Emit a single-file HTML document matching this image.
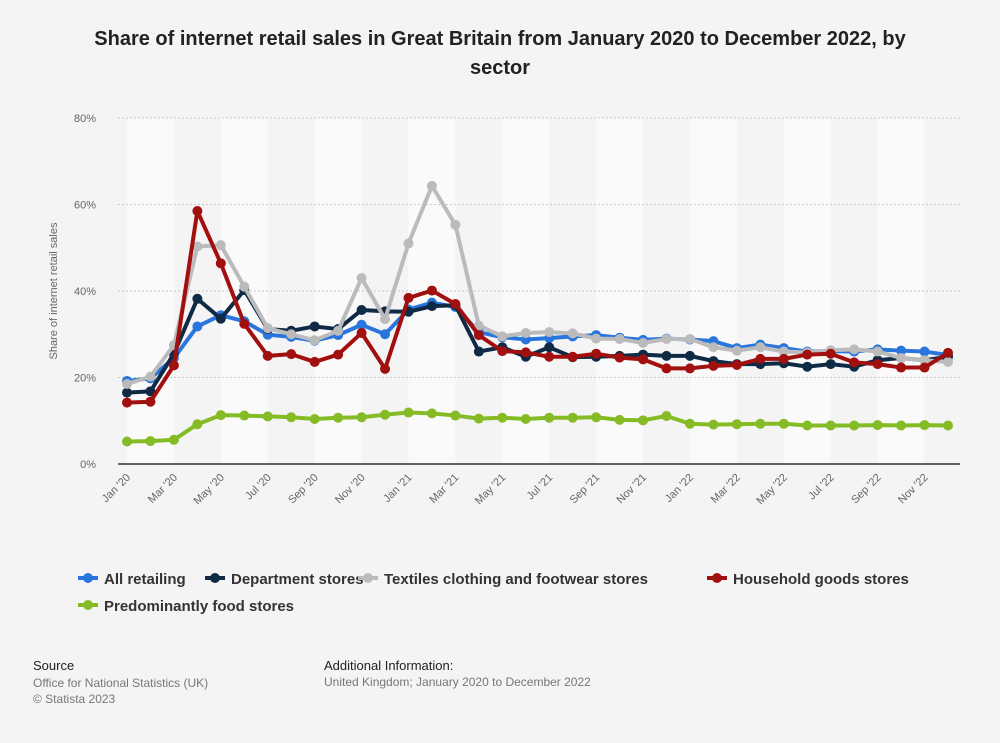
<!DOCTYPE html>
<html><head><meta charset="utf-8"><style>
body{margin:0;background:#f4f4f4;font-family:"Liberation Sans",sans-serif;}
#wrap{position:relative;width:1000px;height:743px;overflow:hidden;}
.t{position:absolute;}
</style></head><body>
<div id="wrap">
<div class="t" style="left:70px;top:25px;width:860px;text-align:center;font-size:20px;font-weight:bold;color:#222;line-height:29px;">Share of internet retail sales in Great Britain from January 2020 to December 2022, by sector</div>
<svg id="chart" width="1000" height="743" style="position:absolute;left:0;top:0"></svg>
<div class="t" style="left:33px;top:658px;font-size:13px;color:#222;">Source</div>
<div class="t" style="left:33px;top:675px;font-size:12px;color:#777;line-height:16px;">Office for National Statistics (UK)<br>© Statista 2023</div>
<div class="t" style="left:324px;top:658px;font-size:13px;color:#222;">Additional Information:</div>
<div class="t" style="left:324px;top:675px;font-size:12px;color:#777;">United Kingdom; January 2020 to December 2022</div>
</div>
<script>
const months=["Jan '20","Feb '20","Mar '20","Apr '20","May '20","Jun '20","Jul '20","Aug '20","Sep '20","Oct '20","Nov '20","Dec '20","Jan '21","Feb '21","Mar '21","Apr '21","May '21","Jun '21","Jul '21","Aug '21","Sep '21","Oct '21","Nov '21","Dec '21","Jan '22","Feb '22","Mar '22","Apr '22","May '22","Jun '22","Jul '22","Aug '22","Sep '22","Oct '22","Nov '22","Dec '22"];
const yTicks=[0,20,40,60,80];
const allRetailing=[19.2,19.8,24.5,31.8,34.4,33.0,29.9,29.4,28.5,29.8,32.2,30.0,35.7,37.3,36.3,30.5,29.3,28.8,29.1,29.5,29.8,29.2,28.7,29.0,28.8,28.4,26.8,27.6,26.8,26.0,26.1,26.0,26.5,26.2,26.0,25.2];
const department=[16.5,16.8,25.5,38.2,33.6,40.2,31.2,30.8,31.8,31.2,35.6,35.3,35.2,36.5,36.7,26.0,27.0,24.8,27.0,24.7,24.8,25.0,25.3,25.0,25.0,23.8,23.1,23.1,23.3,22.5,23.1,22.5,24.0,24.5,24.0,24.8];
const textiles=[18.5,20.2,27.5,50.3,50.6,41.0,31.4,30.0,28.6,30.8,43.0,33.5,51.0,64.3,55.3,32.0,29.5,30.3,30.5,30.2,29.0,28.9,28.0,28.9,28.9,27.0,26.2,27.0,26.0,25.8,26.3,26.5,26.0,24.5,24.0,23.6];
const household=[14.2,14.4,22.8,58.5,46.4,32.4,25.0,25.4,23.6,25.3,30.3,22.0,38.4,40.1,37.0,29.8,26.1,25.8,24.8,24.8,25.5,24.6,24.2,22.1,22.1,22.7,22.9,24.3,24.3,25.3,25.5,23.5,23.1,22.3,22.3,25.7];
const food=[5.2,5.3,5.6,9.2,11.3,11.2,11.0,10.8,10.4,10.7,10.8,11.4,11.9,11.7,11.2,10.5,10.7,10.4,10.7,10.7,10.8,10.2,10.1,11.1,9.3,9.1,9.2,9.3,9.3,8.9,8.9,8.9,9.0,8.9,9.0,8.9];
const seriesNames=["All retailing","Department stores","Textiles clothing and footwear stores","Household goods stores","Predominantly food stores"];
const seriesColors=["#2876dd","#0f2a45","#bbbbbb","#a10f0f","#85bb24"];

const NS="http://www.w3.org/2000/svg";
const svg=document.getElementById('chart');
const L=118,R=960,T=118,B=464;
const x=i=>127+i*(948-127)/(months.length-1);
const y=v=>B-(v/80)*(B-T);
function el(n,a){const e=document.createElementNS(NS,n);for(const k in a)e.setAttribute(k,a[k]);svg.appendChild(e);return e;}
for(let i=0;i<months.length;i+=2){
  const x0=x(i), x1=Math.min(R,x(i+2));
  const b=el('rect',{x:x0,y:T,width:x1-x0,height:B-T,fill:(i/2)%2===0?'#fafafa':'#f4f4f4'});
  
  
}
yTicks.forEach(v=>{
  if(v>0){const g=el('line',{x1:L,x2:R,y1:y(v),y2:y(v),stroke:'#c8c8c8','stroke-dasharray':'2,2'});
  
  }
  const t=el('text',{x:96,y:y(v)+4,'text-anchor':'end','font-size':11,fill:'#666'});t.textContent=v+'%';
  
  
});
const ax=el('line',{x1:L,x2:R,y1:B,y2:B,stroke:'#333','stroke-width':1.5});


months.forEach((m,i)=>{if(i%2)return;
  const t=el('text',{x:x(i)+4,y:B+14,'text-anchor':'end','font-size':11,fill:'#666',transform:`rotate(-45 ${x(i)+4} ${B+14})`});t.textContent=m;
  
  });
const yt=el('text',{x:57,y:291,'text-anchor':'middle','font-size':11,fill:'#666',transform:'rotate(-90 57 291)'});yt.textContent='Share of internet retail sales';


const data=[allRetailing,department,textiles,household,food];
const order=[4,0,1,2,3];
order.forEach(s=>{
  const p=el('polyline',{points:data[s].map((v,i)=>x(i)+','+y(v)).join(' '),fill:'none',stroke:seriesColors[s],'stroke-width':4,'stroke-linejoin':'round'});
  
  
  data[s].forEach((v,i)=>{const c=el('circle',{cx:x(i),cy:y(v),r:5,fill:seriesColors[s]});
    
    });
});
const legPos=[[78,578],[205,578],[358,578],[707,578],[78,605]];
seriesNames.forEach((n,s)=>{
  const [lx,ly]=legPos[s];
  const l=el('line',{x1:lx,x2:lx+20,y1:ly,y2:ly,stroke:seriesColors[s],'stroke-width':4});
  
  
  const c=el('circle',{cx:lx+10,cy:ly,r:5,fill:seriesColors[s]});
  
  
  const t=el('text',{x:lx+26,y:ly+6,'font-size':15,'font-weight':'bold',fill:'#333'});t.textContent=n;
  
  
});
</script>
</body></html>
